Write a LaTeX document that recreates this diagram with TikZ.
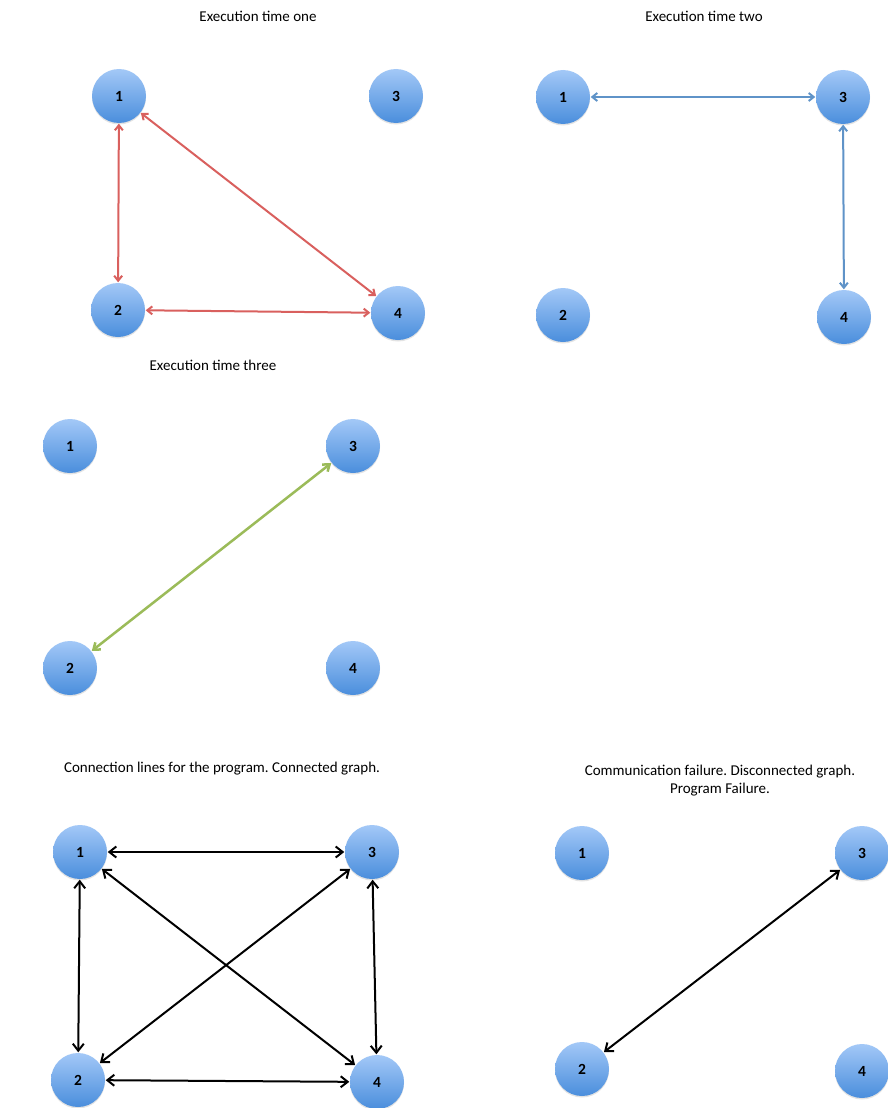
\documentclass[tikz,border=0pt]{standalone}
\usepackage{fontspec}
\setmainfont{Carlito}
\frenchspacing
\usetikzlibrary{arrows.meta,shadows}
\definecolor{redline}{HTML}{D9605E}
\definecolor{blueline}{HTML}{5F93C8}
\definecolor{greenline}{HTML}{9BBB59}
\definecolor{ctop}{HTML}{A3C8F7}
\definecolor{cbot}{HTML}{4A8EDC}
\begin{document}
\begin{tikzpicture}[x=1pt,y=-1pt,
  vtx/.style={circle,minimum size=54pt,inner sep=0pt,top color=ctop,bottom color=cbot,
    draw=none,font=\bfseries\fontsize{15.5}{15.5}\selectfont,
    drop shadow={opacity=0.22,shadow xshift=0pt,shadow yshift=-1.5pt}},
  ttl/.style={font=\fontsize{15}{18}\selectfont,align=center},
  redarr/.style={draw=redline,line width=2pt,{Straight Barb[length=5pt,width=8pt]}-{Straight Barb[length=5pt,width=8pt]}},
  bluearr/.style={draw=blueline,line width=2pt,{Straight Barb[length=5pt,width=8pt]}-{Straight Barb[length=5pt,width=8pt]}},
  greenarr/.style={draw=greenline,line width=2.5pt,{Straight Barb[length=6pt,width=9pt]}-{Straight Barb[length=6pt,width=9pt]}},
  blkarr/.style={draw=black,line width=2pt,{Straight Barb[length=7pt,width=11pt]}-{Straight Barb[length=7pt,width=11pt]}},
  shorten >=0.5pt, shorten <=0.5pt]
\useasboundingbox (0,0) rectangle (888,1108);
\fill[white] (0,0) rectangle (888,1108);

% Panel 1
\node[ttl] (t1) at (258,16) {Execution time one};
\node[vtx] (a1) at (119,96) {1};
\node[vtx] (a3) at (396,96) {3};
\node[vtx] (a2) at (118,310) {2};
\node[vtx] (a4) at (398,313) {4};
\draw[redarr] (a1) -- (a2);
\draw[redarr] (a1) -- (a4);
\draw[redarr] (a2) -- (a4);

% Panel 2
\node[ttl] (t2) at (704,16) {Execution time two};
\node[vtx] (b1) at (563,97) {1};
\node[vtx] (b3) at (843,97) {3};
\node[vtx] (b2) at (563,315) {2};
\node[vtx] (b4) at (844,317) {4};
\draw[bluearr] (b1) -- (b3);
\draw[bluearr] (b3) -- (b4);

% Panel 3
\node[ttl] (t3) at (213,365) {Execution time three};
\node[vtx] (c1) at (70,446) {1};
\node[vtx] (c3) at (353,446) {3};
\node[vtx] (c2) at (70,668) {2};
\node[vtx] (c4) at (353,668) {4};
\draw[greenarr] (c2) -- (c3);

% Panel 4
\node[ttl] (t4) at (222,769) {Connection lines for the program. Connected graph.};
\node[vtx] (d1) at (80,852) {1};
\node[vtx] (d3) at (372,852) {3};
\node[vtx] (d2) at (78,1080) {2};
\node[vtx] (d4) at (377,1082) {4};
\draw[blkarr] (d1) -- (d3);
\draw[blkarr] (d1) -- (d2);
\draw[blkarr] (d1) -- (d4);
\draw[blkarr] (d2) -- (d3);
\draw[blkarr] (d3) -- (d4);
\draw[blkarr] (d2) -- (d4);

% Panel 5
\node[ttl] (t5) at (720,781) {Communication failure. Disconnected graph.\\Program Failure.};
\node[vtx] (e1) at (582,853) {1};
\node[vtx] (e3) at (862,853) {3};
\node[vtx] (e2) at (582,1069) {2};
\node[vtx] (e4) at (862,1071) {4};
\draw[blkarr] (e2) -- (e3);
\end{tikzpicture}
\end{document}
